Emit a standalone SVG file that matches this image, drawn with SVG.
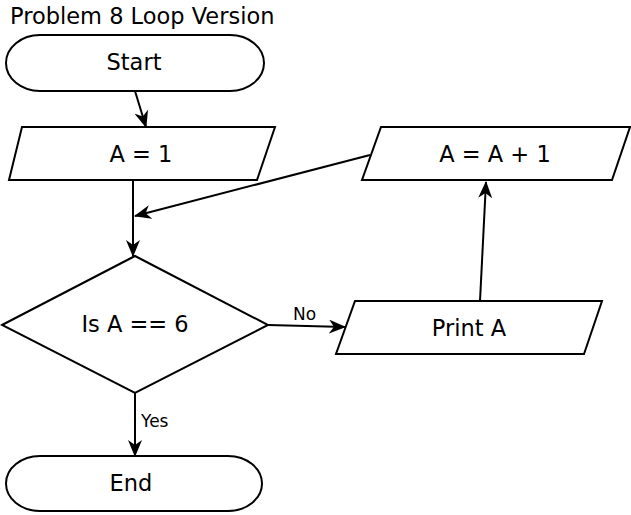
<svg xmlns="http://www.w3.org/2000/svg" width="631" height="515" viewBox="0 0 631 515">
<style>
.s{fill:#fff;stroke:#000;stroke-width:2}
.t{font-family:"DejaVu Sans",Verdana,sans-serif;font-size:22.5px;fill:#000;text-anchor:middle;dominant-baseline:central}
.l{font-family:"DejaVu Sans",Verdana,sans-serif;font-size:17px;fill:#000}
.c{fill:none;stroke:#000;stroke-width:2;marker-end:url(#a)}
</style>
<defs>
<marker id="a" viewBox="0 0 17 14" refX="16" refY="7" markerWidth="17" markerHeight="14" markerUnits="userSpaceOnUse" orient="auto">
<path d="M0,0 L17,7 L0,14 L5,7 z" fill="#000"/>
</marker>
</defs>
<text x="10" y="16" class="t" style="text-anchor:start">Problem 8 Loop Version</text>
<g id="start"><rect class="s" x="6" y="35" width="258" height="56" rx="34" ry="28"/><text class="t" x="134" y="62">Start</text></g>
<g id="a1"><polygon class="s" points="22,127 275,127 257,180 9,180"/><text class="t" x="141" y="154">A = 1</text></g>
<g id="inc"><polygon class="s" points="381,127 630,127 612,180 362,180"/><text class="t" x="495" y="154">A = A + 1</text></g>
<g id="dec"><polygon class="s" points="2,325 135,256 268,325 135,393"/><text class="t" x="135" y="324">Is A == 6</text></g>
<g id="print"><polygon class="s" points="355,301 602,301 584,354 336,354"/><text class="t" x="469" y="328">Print A</text></g>
<g id="end"><rect class="s" x="6" y="456" width="256" height="55" rx="34" ry="27.5"/><text class="t" x="131" y="483">End</text></g>
<g id="connectors">
<line class="c" x1="135" y1="91" x2="146" y2="127"/>
<line class="c" x1="133" y1="180" x2="133" y2="256"/>
<line class="c" x1="370" y1="155" x2="135" y2="216"/>
<line class="c" x1="268" y1="325" x2="345" y2="327"/>
<line class="c" x1="480" y1="301" x2="486" y2="182"/>
<line class="c" x1="135" y1="393" x2="135" y2="456"/>
<text class="l" x="293" y="320">No</text>
<text class="l" x="141" y="427">Yes</text>
</g>
</svg>
